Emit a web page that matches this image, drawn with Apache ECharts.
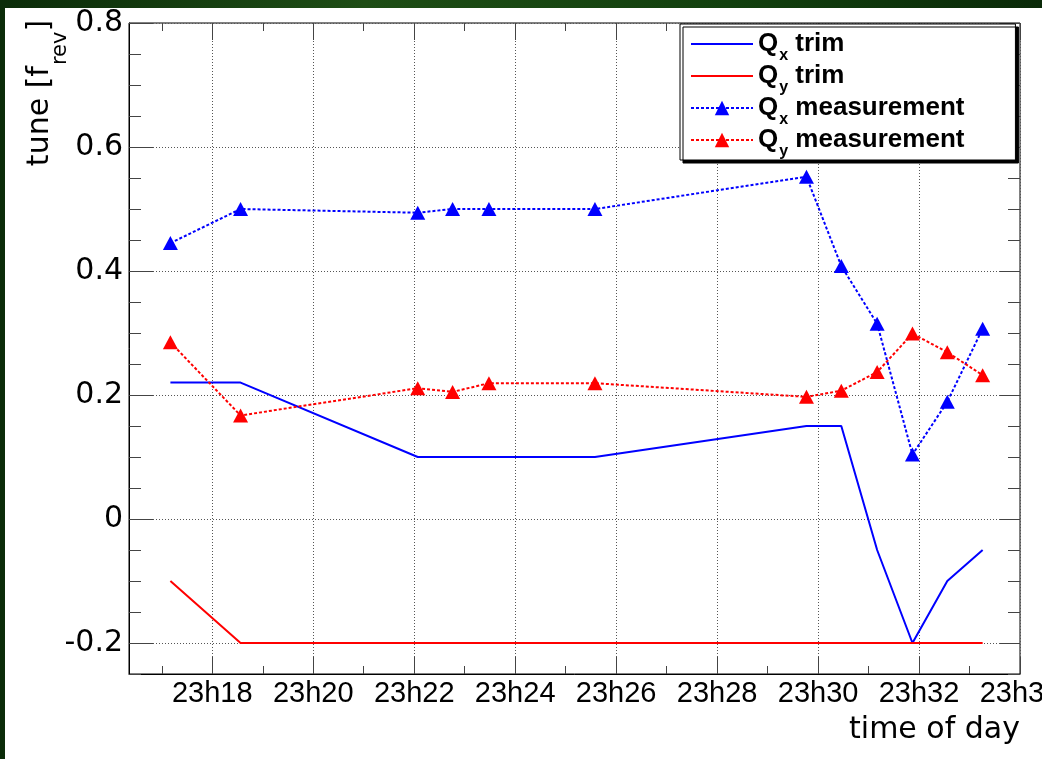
<!DOCTYPE html>
<html><head><meta charset="utf-8">
<script src="https://cdn.jsdelivr.net/npm/echarts@6/dist/echarts.min.js"></script>
<style>html,body{margin:0;padding:0;background:#123d10}#c{width:1042px;height:759px}</style>
</head><body><div id="c"></div><script>
// time in minutes after 23h00
const times  = [17.17, 18.56, 22.07, 22.76, 23.48, 25.58, 29.77, 30.46, 31.17, 31.87, 32.56, 33.26];
const qxTrim = [0.22, 0.22, 0.10, 0.10, 0.10, 0.10, 0.15, 0.15, -0.05, -0.20, -0.10, -0.05];
const qyTrim = [-0.10, -0.20, -0.20, -0.20, -0.20, -0.20, -0.20, -0.20, -0.20, -0.20, -0.20, -0.20];
const qxMeas = [0.445, 0.500, 0.494, 0.500, 0.500, 0.500, 0.552, 0.408, 0.315, 0.104, 0.189, 0.307];
const qyMeas = [0.285, 0.167, 0.211, 0.205, 0.219, 0.219, 0.197, 0.207, 0.237, 0.299, 0.269, 0.232];
const xMajorTicks = [18, 20, 22, 24, 26, 28, 30, 32, 34];
const xMinorTicks = [17, 19, 21, 23, 25, 27, 29, 31, 33];
const yMajorTicks = [-0.2, 0, 0.2, 0.4, 0.6, 0.8];
const yMinorTicks = [-0.25, -0.15, -0.1, -0.05, 0.05, 0.1, 0.15, 0.25, 0.3, 0.35, 0.45, 0.5, 0.55, 0.65, 0.7, 0.75];
const seriesNames = ['Qx trim', 'Qy trim', 'Qx measurement', 'Qy measurement'];
const xMin = 16.35, xMax = 34, yMin = -0.25, yMax = 0.8;

const FONT = '"Liberation Sans", Arial, sans-serif';
const FONT2 = '"DejaVu Sans", sans-serif';
const zip = (vals) => times.map((t, i) => [t, vals[i]]);

function xAxisDef(position, ticks, len, main) {
  return {
    type: 'value', position, min: xMin, max: xMax,
    axisLine: { show: main, onZero: false, lineStyle: { color: '#000', width: 1 } },
    axisTick: { show: true, inside: true, length: len, customValues: ticks, lineStyle: { color: '#444', width: 1 } },
    axisLabel: main ? { show: true, customValues: ticks, formatter: v => '23h' + v, fontSize: 29, fontFamily: FONT, color: '#000', margin: 5 } : { show: false },
    splitLine: main ? { show: true, customValues: ticks, lineStyle: { type: [1, 2], color: '#555', width: 1 } } : { show: false },
    name: main ? 'time of day' : '', nameLocation: 'end', nameGap: 0,
    nameTextStyle: { fontSize: 30, fontFamily: FONT2, color: '#000', align: 'right', verticalAlign: 'top', padding: [41, 0, 0, 0] }
  };
}
function yAxisDef(position, ticks, len, main) {
  return {
    type: 'value', position, min: yMin, max: yMax,
    axisLine: { show: main, onZero: false, lineStyle: { color: '#000', width: 1 } },
    axisTick: { show: true, inside: true, length: len, customValues: ticks, lineStyle: { color: '#444', width: 1 } },
    axisLabel: main ? { show: true, customValues: ticks, formatter: v => String(Math.round(v * 10) / 10), fontSize: 30, fontFamily: FONT2, color: '#000', margin: 6, padding: [8, 0, 0, 0] } : { show: false },
    splitLine: main ? { show: true, customValues: ticks, lineStyle: { type: [1, 2], color: '#555', width: 1 } } : { show: false }
  };
}

const legendRich = {
  m: { fontSize: 26, fontWeight: 'bold', fontFamily: FONT, color: '#000', lineHeight: 26, verticalAlign: 'middle' },
  s: { fontSize: 16, fontWeight: 'bold', fontFamily: FONT, color: '#000', lineHeight: 16, verticalAlign: 'middle', padding: [24, 0, 0, 1] }
};
function legendLabel(name) {
  const parts = name.split(' ');
  return '{m|Q}{s|' + parts[0].slice(1) + '}{m| ' + parts.slice(1).join(' ') + '}';
}

const chart = echarts.init(document.getElementById('c'), null, { renderer: 'canvas' });
chart.setOption({
  animation: false,
  backgroundColor: new echarts.graphic.LinearGradient(0, 0, 1, 0, [
    { offset: 0, color: '#0b2c09' }, { offset: 0.35, color: '#1e4d15' }, { offset: 0.7, color: '#12400e' }, { offset: 1, color: '#0a2a08' }
  ]),
  graphic: [
    { type: 'rect', z: -100, shape: { x: 5, y: 8, width: 1037, height: 751 }, style: { fill: '#ffffff' } },
    { type: 'text', x: 40, y: 93, rotation: Math.PI / 2,
      style: { text: '{m|tune [f}{s|rev}{m|]}', align: 'center', verticalAlign: 'middle',
        rich: {
          m: { fontSize: 30, fontFamily: FONT2, fill: '#000', lineHeight: 30, verticalAlign: 'top' },
          s: { fontSize: 21, fontFamily: FONT2, fill: '#000', lineHeight: 21, verticalAlign: 'top', padding: [25, 0, 0, 1] }
        } } }
  ],
  grid: { left: 129, right: 22, top: 23, bottom: 85, show: true, borderColor: '#000', borderWidth: 1, backgroundColor: 'transparent', containLabel: false, outerBoundsMode: 'none' },
  xAxis: [
    xAxisDef('bottom', xMajorTicks, 17, true),
    xAxisDef('bottom', xMinorTicks, 8, false),
    xAxisDef('top', xMajorTicks, 17, false),
    xAxisDef('top', xMinorTicks, 8, false)
  ],
  yAxis: [
    yAxisDef('left', yMajorTicks, 24, true),
    yAxisDef('left', yMinorTicks, 12, false),
    yAxisDef('right', yMajorTicks, 20, false),
    yAxisDef('right', yMinorTicks, 12, false)
  ],
  legend: {
    data: [
      { name: seriesNames[0], itemStyle: { color: 'rgba(0,0,0,0)', borderWidth: 0 } },
      { name: seriesNames[1], itemStyle: { color: 'rgba(0,0,0,0)', borderWidth: 0 } },
      { name: seriesNames[2] },
      { name: seriesNames[3] }
    ],
    orient: 'vertical', left: 680, top: 24,
    itemWidth: 62, itemHeight: 18, itemGap: -8,
    padding: [0, 51, 0, 10],
    backgroundColor: '#fff', borderColor: '#000', borderWidth: 1,
    shadowColor: '#000', shadowBlur: 0, shadowOffsetX: 3, shadowOffsetY: 3,
    formatter: legendLabel,
    textStyle: { rich: legendRich }
  },
  series: [
    { name: seriesNames[0], type: 'line', data: zip(qxTrim), symbol: 'none', lineStyle: { color: '#0000ff', width: 2 }, itemStyle: { color: '#0000ff' } },
    { name: seriesNames[1], type: 'line', data: zip(qyTrim), symbol: 'none', lineStyle: { color: '#ff0000', width: 2 }, itemStyle: { color: '#ff0000' } },
    { name: seriesNames[2], type: 'line', data: zip(qxMeas), symbol: 'triangle', symbolSize: [15, 14], lineStyle: { color: '#0000ff', width: 2, type: [3, 2] }, itemStyle: { color: '#0000ff' } },
    { name: seriesNames[3], type: 'line', data: zip(qyMeas), symbol: 'triangle', symbolSize: [15, 14], lineStyle: { color: '#ff0000', width: 2, type: [3, 2] }, itemStyle: { color: '#ff0000' } }
  ]
});
</script></body></html>
